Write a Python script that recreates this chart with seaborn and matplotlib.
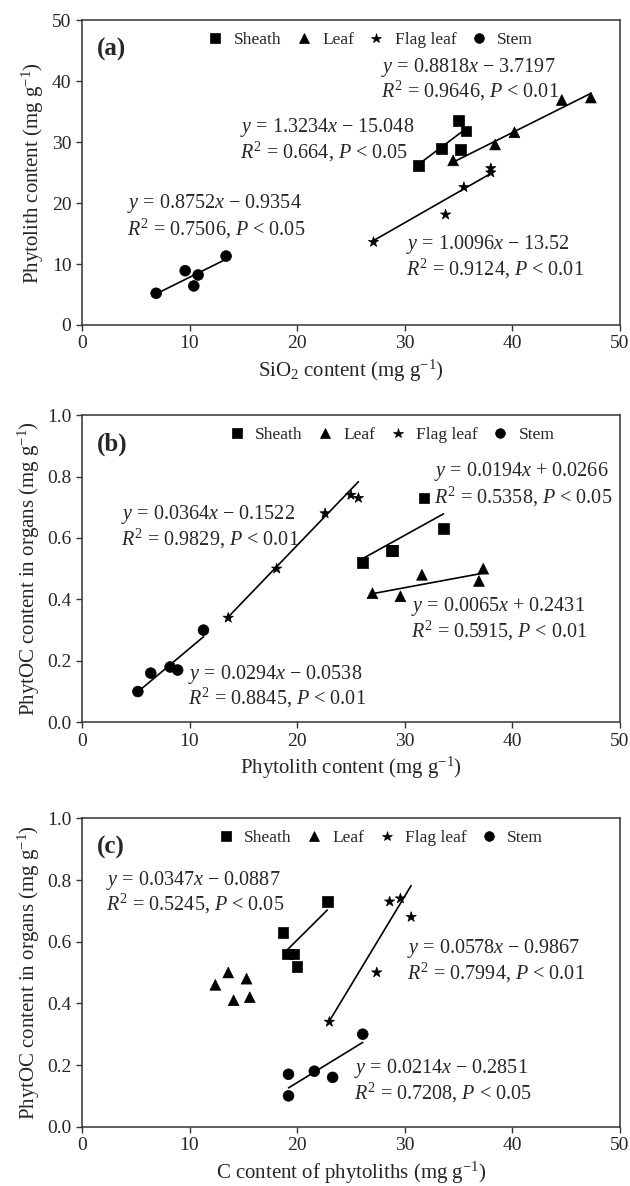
import numpy as np
import pandas as pd
import matplotlib
matplotlib.use("Agg")
import matplotlib.pyplot as plt
import seaborn as sns

# --- data ---
organs = ["Sheath", "Leaf", "Flag leaf", "Stem"]
markers = {"Sheath": "s", "Leaf": "^", "Flag leaf": "*", "Stem": "o"}

sheath_sio2 = [31.3, 33.4, 35.0, 35.7, 35.2]
sheath_phyt = [26.1, 28.9, 33.6, 31.8, 28.8]
sheath_phytoc = [0.52, 0.56, 0.63, 0.73, 0.56]
sheath_c = [20.0, 19.1, 18.7, 22.8, 19.7]

leaf_sio2 = [34.5, 38.4, 40.2, 44.6, 47.3]
leaf_phyt = [27.0, 29.6, 31.6, 36.9, 37.3]
leaf_phytoc = [0.42, 0.41, 0.48, 0.46, 0.50]
leaf_c = [15.6, 14.1, 15.3, 12.4, 13.6]

flag_sio2 = [27.1, 33.8, 35.5, 38.0, 38.0]
flag_phyt = [13.6, 18.1, 22.6, 25.0, 25.7]
flag_phytoc = [0.34, 0.50, 0.68, 0.74, 0.73]
flag_c = [23.0, 27.4, 30.6, 29.6, 28.6]

stem_sio2 = [6.9, 9.6, 10.4, 10.8, 13.4]
stem_phyt = [5.2, 8.9, 6.4, 8.2, 11.3]
stem_phytoc = [0.10, 0.17, 0.16, 0.18, 0.30]
stem_c = [19.2, 19.2, 23.3, 21.6, 26.1]

# fitted equations (slope, intercept) per organ, per panel; None = no line
fit_a = {"Sheath": (1.3234, -15.048), "Leaf": (0.8818, -3.7197),
         "Flag leaf": (1.0096, -13.52), "Stem": (0.8752, -0.9354)}
fit_b = {"Sheath": (0.0194, 0.0266), "Leaf": (0.0065, 0.2431),
         "Flag leaf": (0.0364, -0.1522), "Stem": (0.0294, -0.0538)}
fit_c = {"Sheath": (0.0347, -0.0887), "Leaf": None,
         "Flag leaf": (0.0578, -0.9867), "Stem": (0.0214, -0.2851)}

# equation labels: (x, y of first line, y of second line, eq text, stats text)
eq_a = [(27.8, 42.2, 38.4, "$y$ = 0.8818$x$ − 3.7197", "$R^2$ = 0.9646, $P$ < 0.01"),
        (14.7, 32.4, 28.4, "$y$ = 1.3234$x$ − 15.048", "$R^2$ = 0.664, $P$ < 0.05"),
        (4.2, 20.0, 15.8, "$y$ = 0.8752$x$ − 0.9354", "$R^2$ = 0.7506, $P$ < 0.05"),
        (30.1, 13.2, 9.2, "$y$ = 1.0096$x$ − 13.52", "$R^2$ = 0.9124, $P$ < 0.01")]
eq_b = [(32.7, 0.816, 0.732, "$y$ = 0.0194$x$ + 0.0266", "$R^2$ = 0.5358, $P$ < 0.05"),
        (3.6, 0.678, 0.598, "$y$ = 0.0364$x$ − 0.1522", "$R^2$ = 0.9829, $P$ < 0.01"),
        (30.6, 0.376, 0.296, "$y$ = 0.0065$x$ + 0.2431", "$R^2$ = 0.5915, $P$ < 0.01"),
        (9.9, 0.157, 0.079, "$y$ = 0.0294$x$ − 0.0538", "$R^2$ = 0.8845, $P$ < 0.01")]
eq_c = [(2.25, 0.800, 0.724, "$y$ = 0.0347$x$ − 0.0887", "$R^2$ = 0.5245, $P$ < 0.05"),
        (30.2, 0.578, 0.498, "$y$ = 0.0578$x$ − 0.9867", "$R^2$ = 0.7994, $P$ < 0.01"),
        (25.3, 0.189, 0.110, "$y$ = 0.0214$x$ − 0.2851", "$R^2$ = 0.7208, $P$ < 0.05")]

sns.set_theme(style="ticks")
plt.rcParams["font.family"] = ["Liberation Serif", "DejaVu Serif"]
plt.rcParams["mathtext.fontset"] = "custom"
plt.rcParams["mathtext.rm"] = "Liberation Serif"
plt.rcParams["mathtext.it"] = "Liberation Serif:italic"
plt.rcParams["axes.unicode_minus"] = True


def make_df(xs, ys):
    rows = []
    for organ, xv, yv in zip(organs, xs, ys):
        for a, b in zip(xv, yv):
            rows.append({"x": a, "y": b, "organ": organ})
    return pd.DataFrame(rows)


def draw_panel(ax, df, fits, eqs, tag, ylim, yticks, yfmt, xlabel, ylabel, leg_x):
    sns.scatterplot(data=df, x="x", y="y", style="organ", markers=markers,
                    style_order=organs, color="black", edgecolor="black",
                    s=60, linewidth=0.5, ax=ax, zorder=3)
    for organ in organs:
        if fits[organ] is None:
            continue
        slope, icpt = fits[organ]
        sub = df[df["organ"] == organ]
        xs = np.array([sub["x"].min(), sub["x"].max()])
        sns.lineplot(x=xs, y=slope * xs + icpt, color="black", lw=1.2, ax=ax)
    for x, y1, y2, t1, t2 in eqs:
        ax.text(x, y1, t1, fontsize=14.5, va="center", ha="left")
        ax.text(x, y2, t2, fontsize=14.5, va="center", ha="left")
    ax.text(0.028, 0.905, tag, transform=ax.transAxes, fontsize=18,
            fontweight="bold", va="center")
    ax.set_xlim(0, 50)
    ax.set_ylim(*ylim)
    ax.set_xticks(range(0, 51, 10))
    ax.set_yticks(yticks)
    ax.set_yticklabels([yfmt.format(v) for v in yticks])
    ax.set_xlabel(xlabel, fontsize=15)
    ax.set_ylabel(ylabel, fontsize=15)
    ax.tick_params(direction="out", length=4, width=1, labelsize=14, color="#333333")
    for sp in ax.spines.values():
        sp.set_visible(True)
        sp.set_color("#333333")
        sp.set_linewidth(1.1)
    sns.move_legend(ax, "center", bbox_to_anchor=(leg_x, 0.935), ncol=4,
                    frameon=False, title=None, fontsize=12.5,
                    handletextpad=0.05, columnspacing=0.3, markerscale=0.9)


fig = plt.figure(figsize=(6.3, 11.86), dpi=100)
ax_a = fig.add_axes([0.130, 0.726, 0.854, 0.257])
ax_b = fig.add_axes([0.130, 0.391, 0.854, 0.259])
ax_c = fig.add_axes([0.130, 0.050, 0.854, 0.260])

df_a = make_df([sheath_sio2, leaf_sio2, flag_sio2, stem_sio2],
               [sheath_phyt, leaf_phyt, flag_phyt, stem_phyt])
df_b = make_df([sheath_phyt, leaf_phyt, flag_phyt, stem_phyt],
               [sheath_phytoc, leaf_phytoc, flag_phytoc, stem_phytoc])
df_c = make_df([sheath_c, leaf_c, flag_c, stem_c],
               [sheath_phytoc, leaf_phytoc, flag_phytoc, stem_phytoc])

draw_panel(ax_a, df_a, fit_a, eq_a, "(a)", (0, 50), [0, 10, 20, 30, 40, 50], "{:.0f}",
           "SiO$_2$ content (mg g$^{-1}$)", "Phytolith content (mg g$^{-1}$)", 0.527)
draw_panel(ax_b, df_b, fit_b, eq_b, "(b)", (0, 1.0), [0, 0.2, 0.4, 0.6, 0.8, 1.0], "{:.1f}",
           "Phytolith content (mg g$^{-1}$)", "PhytOC content in organs (mg g$^{-1}$)", 0.567)
draw_panel(ax_c, df_c, fit_c, eq_c, "(c)", (0, 1.0), [0, 0.2, 0.4, 0.6, 0.8, 1.0], "{:.1f}",
           "C content of phytoliths (mg g$^{-1}$)", "PhytOC content in organs (mg g$^{-1}$)", 0.546)

fig.savefig("out.png", dpi=100)
